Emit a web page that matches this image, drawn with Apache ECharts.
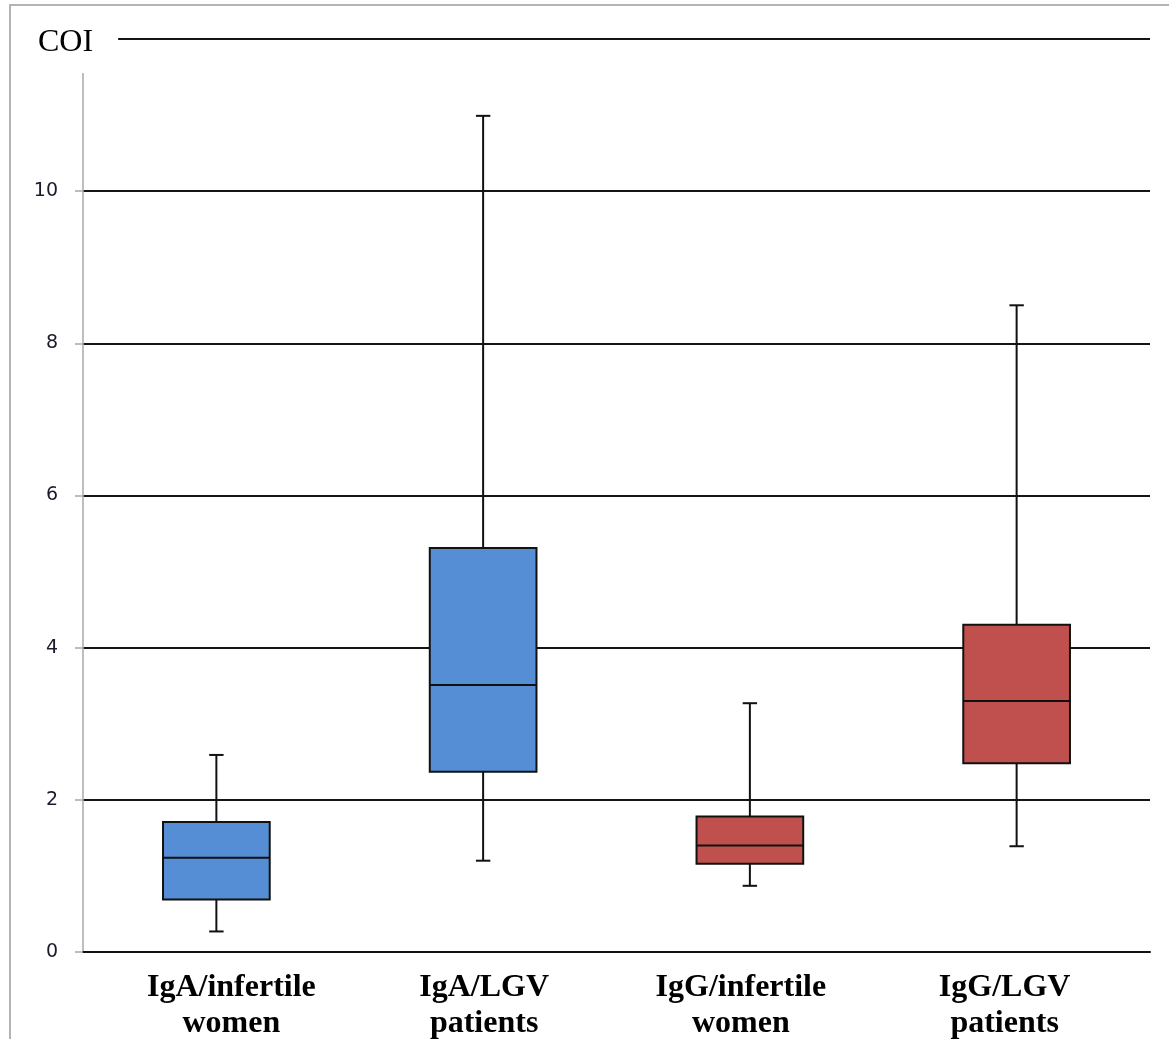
<!DOCTYPE html>
<html>
<head>
<meta charset="utf-8">
<script src="https://cdn.jsdelivr.net/npm/echarts@6/dist/echarts.min.js"></script>
<style>
  html, body { margin: 0; padding: 0; background: #fff; }
  #frame { position: absolute; left: 9px; top: 4px; width: 1200px; height: 1100px;
           border-top: 2px solid #b4b4b4; border-left: 2px solid #b4b4b4; }
  #chart { position: absolute; left: 0; top: 0; width: 1169px; height: 1039px; }
</style>
</head>
<body>
<div id="frame"></div>
<div id="chart"></div>
<script>
// ---- data ----
const categories = ['IgA/infertile\nwomen', 'IgA/LGV\npatients', 'IgG/infertile\nwomen', 'IgG/LGV\npatients'];
const minVals    = [0.27, 1.20, 0.87, 1.39];
const q1Vals     = [0.69, 2.37, 1.16, 2.48];
const medianVals = [1.24, 3.51, 1.40, 3.30];
const q3Vals     = [1.71, 5.31, 1.78, 4.30];
const maxVals    = [2.59, 10.99, 3.27, 8.50];
const yTicks     = [0, 2, 4, 6, 8, 10, 12];
const yTitle     = 'COI';

// ---- styles ----
const boxColors = ['#558ED5', '#558ED5', '#C0504D', '#C0504D'];
const labelPads = [[0, 0, 0, 30], [0, 0, 0, 2], [0, 18, 0, 0], [0, 24, 0, 0]];

const boxData = categories.map((c, i) => [i, minVals[i], q1Vals[i], medianVals[i], q3Vals[i], maxVals[i]]);
const axisData = categories.map((c, i) => ({ value: c, textStyle: { padding: labelPads[i] } }));

const chart = echarts.init(document.getElementById('chart'), null, { renderer: 'canvas' });

chart.setOption({
  animation: false,
  title: {
    text: yTitle,
    left: 35, top: 23,
    padding: [4, 25, 14, 3],
    backgroundColor: '#ffffff',
    textStyle: { fontFamily: 'Liberation Serif', fontSize: 32, fontWeight: 'normal', color: '#000' }
  },
  grid: { left: 83, right: 19, top: 39, bottom: 87, containLabel: false, outerBoundsMode: 'none' },
  xAxis: {
    type: 'category',
    data: axisData,
    boundaryGap: true,
    axisLine: { show: true, lineStyle: { color: '#111', width: 2 } },
    axisTick: { show: false },
    splitLine: { show: false },
    axisLabel: {
      interval: 0, margin: 18,
      fontFamily: 'Liberation Serif', fontSize: 32, fontWeight: 'bold',
      color: '#000', lineHeight: 36
    }
  },
  yAxis: {
    type: 'value',
    min: 0, max: 12, interval: 2,
    axisLine: { show: true, lineStyle: { color: '#a8a8a8', width: 1.5 } },
    axisTick: { show: true, length: 8, lineStyle: { color: '#a8a8a8', width: 1.5 } },
    splitLine: { show: true, lineStyle: { color: '#141414', width: 2 } },
    axisLabel: {
      margin: 25,
      fontFamily: 'DejaVu Sans', fontSize: 19, color: '#1a1a2a',
      formatter: v => (yTicks.indexOf(v) >= 0 && v !== 12) ? String(v) : ''
    }
  },
  series: [{
    type: 'custom',
    data: boxData,
    encode: { x: 0, y: [1, 2, 3, 4, 5] },
    z: 3,
    renderItem: function (params, api) {
      const idx = api.value(0);
      const band = api.size([1, 0])[0];
      const half = band * 0.4 / 2;
      const capHalf = band * 0.027;
      const pMin = api.coord([idx, api.value(1)]);
      const pQ1 = api.coord([idx, api.value(2)]);
      const pMed = api.coord([idx, api.value(3)]);
      const pQ3 = api.coord([idx, api.value(4)]);
      const pMax = api.coord([idx, api.value(5)]);
      const cx = pMed[0];
      const stroke = { stroke: '#111', lineWidth: 2 };
      return {
        type: 'group',
        children: [
          { type: 'line', shape: { x1: cx, y1: pMax[1], x2: cx, y2: pQ3[1] }, style: stroke },
          { type: 'line', shape: { x1: cx - capHalf, y1: pMax[1], x2: cx + capHalf, y2: pMax[1] }, style: stroke },
          { type: 'line', shape: { x1: cx, y1: pQ1[1], x2: cx, y2: pMin[1] }, style: stroke },
          { type: 'line', shape: { x1: cx - capHalf, y1: pMin[1], x2: cx + capHalf, y2: pMin[1] }, style: stroke },
          { type: 'rect', shape: { x: cx - half, y: pQ3[1], width: half * 2, height: pQ1[1] - pQ3[1] },
            style: { fill: boxColors[params.dataIndex], stroke: '#111', lineWidth: 2 } },
          { type: 'line', shape: { x1: cx - half, y1: pMed[1], x2: cx + half, y2: pMed[1] }, style: stroke }
        ]
      };
    }
  }]
});
</script>
</body>
</html>
